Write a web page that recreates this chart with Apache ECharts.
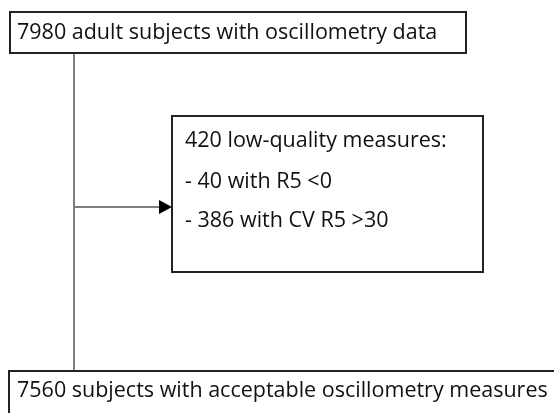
<!DOCTYPE html>
<html>
<head>
<meta charset="utf-8">
<script src="https://cdn.jsdelivr.net/npm/echarts@6/dist/echarts.min.js"></script>
<style>
  html, body { margin: 0; padding: 0; background: #fff; }
  #main { width: 554px; height: 413px; }
</style>
</head>
<body>
<div id="main"></div>
<script>
// flowchart texts
const topLabel = ['7980 adult subjects with oscillometry data'];
const excludedLabel = ['420 low-quality measures:', '- 40 with R5 <0', '- 386 with CV R5 >30'];
const bottomLabel = ['7560 subjects with acceptable oscillometry measures'];

const chart = echarts.init(document.getElementById('main'));

const boxStyle = { fill: '#fff', stroke: '#222', lineWidth: 2 };
const textFont = { fontFamily: 'Open Sans', fontSize: 21.5, fill: '#111' };

const graphic = [
  // main vertical connector
  { type: 'line', shape: { x1: 74, y1: 53, x2: 74, y2: 371 }, style: { stroke: '#7f7f7f', lineWidth: 2 } },
  // branch to exclusion box
  { type: 'line', shape: { x1: 74, y1: 207, x2: 160, y2: 207 }, style: { stroke: '#7f7f7f', lineWidth: 2 } },
  { type: 'polygon', shape: { points: [[159, 200], [172, 207], [159, 214]] }, style: { fill: '#000' } },
  // top box
  { type: 'rect', shape: { x: 10, y: 12, width: 456, height: 41 }, style: boxStyle },
  { type: 'text', x: 17, y: 33, style: Object.assign({ text: topLabel[0], verticalAlign: 'middle' }, textFont) },
  // exclusion box
  { type: 'rect', shape: { x: 172, y: 116, width: 311, height: 156 }, style: boxStyle },
  // bottom box
  { type: 'rect', shape: { x: 9, y: 371, width: 560, height: 60 }, style: boxStyle },
  { type: 'text', x: 17, y: 391, style: Object.assign({ text: bottomLabel[0], verticalAlign: 'middle' }, textFont) }
];

const lineYs = [141, 182, 221];
excludedLabel.forEach((t, i) => {
  graphic.push({ type: 'text', x: 185, y: lineYs[i], style: Object.assign({ text: t, verticalAlign: 'middle' }, textFont) });
});

chart.setOption({
  animation: false,
  graphic: graphic
});
</script>
</body>
</html>
